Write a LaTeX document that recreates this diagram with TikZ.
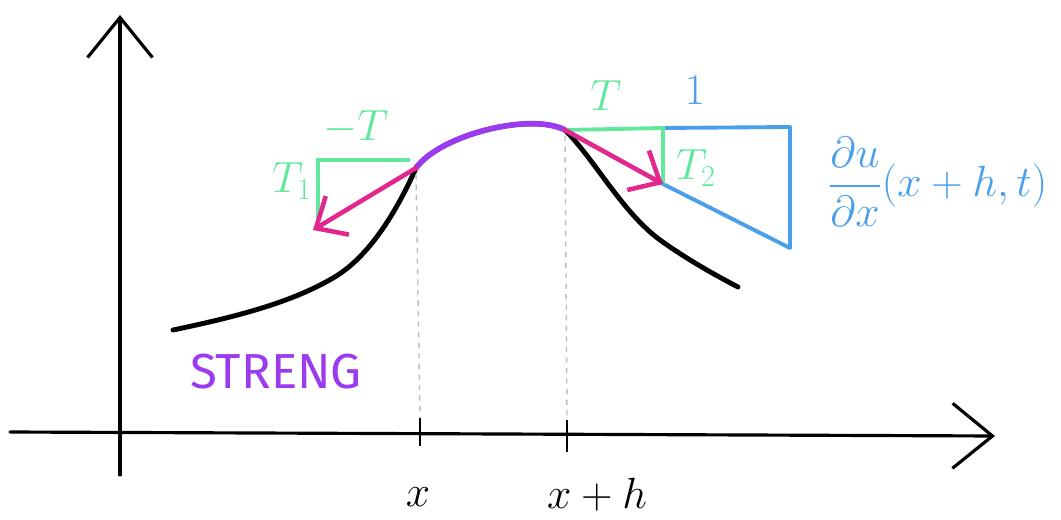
\documentclass[tikz,border=0pt]{standalone}
\usepackage{fontspec}
\usepackage{amsmath}
\setmainfont{Fira Sans}
\usetikzlibrary{arrows.meta, positioning, calc}
\definecolor{inkgreen}{HTML}{62E89C}
\definecolor{inkblue}{HTML}{4A9FEA}
\definecolor{inkpink}{HTML}{E2288E}
\definecolor{inkpurple}{HTML}{9A3BF0}
\definecolor{inkguide}{HTML}{BDBDBD}

\begin{document}
\begin{tikzpicture}[x=0.02cm, y=-0.02cm,
    axisline/.style={line width=1.8pt, line cap=round,
                     -{Straight Barb[length=8mm, width=13mm]}},
    strand/.style={line width=2.8pt, line cap=round},
    tickmark/.style={line width=1.3pt},
    guide/.style={inkguide, line width=0.8pt, dashed},
    greenleg/.style={inkgreen, line width=2.2pt},
    blueleg/.style={inkblue, line width=2.2pt, line join=round},
    force/.style={inkpink, line width=2.6pt, line cap=round,
                  -{Straight Barb[length=5mm, width=9mm]}},
    lbl/.style={inner sep=0pt, font=\fontsize{31}{36}\selectfont}]
  \useasboundingbox (0,0) rectangle (1061,520);
  % axes
  \coordinate (ybot) at (120,475);
  \coordinate (ytop) at (120,15);
  \coordinate (xleft) at (10,432);
  \coordinate (xright) at (995,436);
  \draw[axisline] (ybot) -- (ytop);
  \draw[axisline] (xleft) -- (xright);
  \draw[tickmark] (420,418) -- (420,446);
  \draw[tickmark] (567,420) -- (567,452);
  \node[lbl] (xlab) at (418,497) {$x$};
  \node[lbl] (xhlab) at (597,495) {$x+h$};
  % the string
  \coordinate (pl) at (416,168);
  \coordinate (pr) at (565,130);
  \draw[strand] (173,330) .. controls (240,316) and (292,302) .. (333,278)
    .. controls (368,258) and (396,213) .. (pl)
    .. controls (440,135) and (530,112) .. (pr)
    .. controls (595,160) and (622,212) .. (660,240)
    .. controls (688,260) and (715,275) .. (738,287);
  \draw[inkpurple, line width=3.2pt, line cap=round]
    (pl) .. controls (440,135) and (530,112) .. (pr);
  \draw[guide] ($(pl)+(0,6)$) -- (420,418);
  \draw[guide] ($(pr)+(0,6)$) -- (567,418);
  \node[lbl, inkpurple, font=\fontsize{28}{34}\selectfont] (streng) at (276,372) {STRENG};
  % left end
  \coordinate (lcorner) at (318,160);
  \coordinate (ltip) at (313,230);
  \draw[greenleg] (318,226) -- (lcorner) -- (410,160);
  \draw[force] (pl) -- (ltip);
  \node[lbl, inkgreen] (mt) at (356,127) {$-T$};
  \node[lbl, inkgreen, font=\fontsize{24}{28}\selectfont] (t1) at (292,181) {$T_1$};
  % right end
  \coordinate (rcorner) at (663,128);
  \coordinate (rtip) at (663,184);
  \coordinate (bcorner) at (790,127);
  \coordinate (bbot) at (790,248);
  \draw[blueleg] (rcorner) -- (bcorner) -- (bbot) -- (rtip);
  \draw[greenleg] (pr) -- (rcorner) -- (rtip);
  \draw[blueleg] (pr) -- (rtip);
  \draw[force] (pr) -- (rtip);
  \node[lbl, inkgreen] (tr) at (606,96) {$T$};
  \node[lbl, inkgreen, font=\fontsize{24}{28}\selectfont] (t2) at (696,168) {$T_2$};
  \node[lbl, inkblue] (one) at (695,90) {$1$};
  \node[lbl, inkblue, anchor=west, font=\fontsize{29}{34}\selectfont] (slope) at (828,182)
    {$\dfrac{\partial u}{\partial x}(x+h,t)$};
\end{tikzpicture}
\end{document}
